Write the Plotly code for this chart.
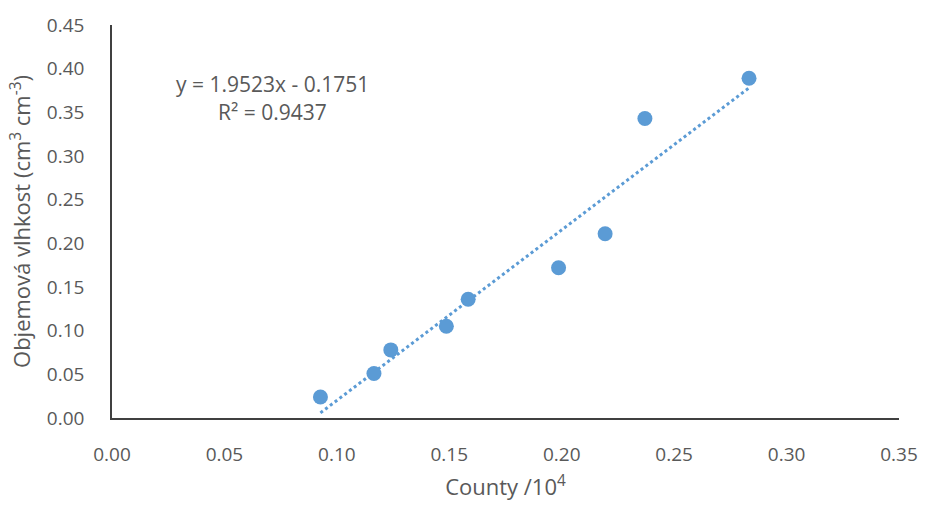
import plotly.graph_objects as go

# Data
county = [0.0927, 0.1165, 0.1240, 0.1487, 0.1584, 0.1986, 0.2193, 0.2370, 0.2833]
vlhkost = [0.024, 0.051, 0.078, 0.105, 0.136, 0.172, 0.211, 0.343, 0.389]
slope = 1.9523
intercept = -0.1751
r2 = 0.9437
x_ticks = [0.00, 0.05, 0.10, 0.15, 0.20, 0.25, 0.30, 0.35]
y_ticks = [0.00, 0.05, 0.10, 0.15, 0.20, 0.25, 0.30, 0.35, 0.40, 0.45]

blue = "#5B9BD5"
grey = "#595959"
font_family = "Open Sans"

trend_x = [min(county), max(county)]
trend_y = [slope * v + intercept for v in trend_x]

fig = go.Figure()
fig.add_trace(go.Scatter(
    x=trend_x, y=trend_y, mode="lines",
    line=dict(color=blue, width=3, dash="dot"),
    hoverinfo="skip", showlegend=False,
))
fig.add_trace(go.Scatter(
    x=county, y=vlhkost, mode="markers",
    marker=dict(color=blue, size=15),
    showlegend=False,
))

fig.add_annotation(
    x=0.0715, y=0.382, xref="x", yref="y",
    text=f"y = {slope}x - {abs(intercept)}",
    showarrow=False, align="center",
    font=dict(family=font_family, size=21, color=grey),
)
fig.add_annotation(
    x=0.0715, y=0.350, xref="x", yref="y",
    text=f"R² = {r2}",
    showarrow=False, align="center",
    font=dict(family=font_family, size=21, color=grey),
)

fig.update_layout(
    width=930, height=508,
    margin=dict(l=112, r=24, t=24, b=87),
    paper_bgcolor="white", plot_bgcolor="white",
    font=dict(family=font_family, size=19, color=grey),
    xaxis=dict(
        range=[0, 0.35], tickvals=x_ticks,
        ticktext=[f"{v:.2f}" for v in x_ticks],
        showgrid=False, zeroline=False,
        showline=True, linecolor="#404040", linewidth=1.5,
        ticks="", ticklen=0, ticklabelstandoff=18,
        tickfont=dict(size=19, color=grey),
        title=dict(text="County /10<sup>4</sup>", font=dict(size=22, color=grey), standoff=14),
    ),
    yaxis=dict(
        range=[0, 0.45], tickvals=y_ticks,
        ticktext=[f"{v:.2f}" for v in y_ticks],
        showgrid=False, zeroline=False,
        showline=True, linecolor="#404040", linewidth=1.5,
        ticks="", ticklen=0, ticklabelstandoff=22,
        tickfont=dict(size=19, color=grey),
        title=dict(text="Objemová vlhkost (cm<sup>3</sup> cm<sup>-3</sup>)",
                   font=dict(size=22, color=grey), standoff=10),
    ),
)

fig.write_html("out.html")
